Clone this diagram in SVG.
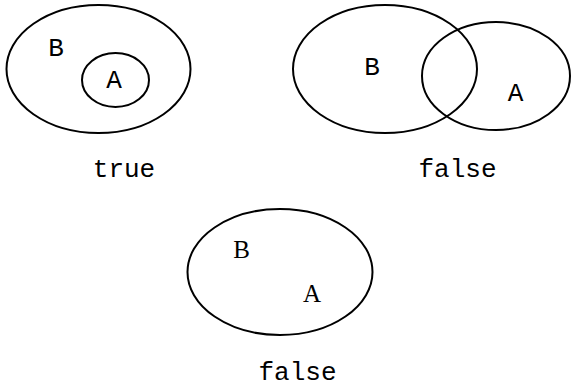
<svg xmlns="http://www.w3.org/2000/svg" width="572" height="387" viewBox="0 0 572 387">
<style>
.e{fill:none;stroke:#000;stroke-width:2}
.m{font-family:"Liberation Mono","Courier New",monospace;font-size:26px;fill:#000}
.w{font-family:"Liberation Mono","Courier New",monospace;font-size:26px;fill:#000}
.s{font-family:"Liberation Serif","Times New Roman",serif;font-size:25px;fill:#000}
</style>
<rect width="572" height="387" fill="#fff"/>
<g id="d1">
<ellipse class="e" cx="98.5" cy="69" rx="92" ry="64"/>
<ellipse class="e" cx="115.5" cy="80" rx="33.5" ry="27"/>
<text class="m" x="56" y="56" text-anchor="middle">B</text>
<text class="m" x="114" y="88" text-anchor="middle">A</text>
<text class="w" x="124" y="177" text-anchor="middle">true</text>
</g>
<g id="d2">
<ellipse class="e" cx="385" cy="69" rx="92" ry="64"/>
<ellipse class="e" cx="496" cy="76" rx="74" ry="54"/>
<text class="m" x="372" y="75" text-anchor="middle">B</text>
<text class="m" x="515.5" y="101" text-anchor="middle">A</text>
<text class="w" x="457.5" y="177" text-anchor="middle">false</text>
</g>
<g id="d3">
<ellipse class="e" cx="280" cy="272" rx="92.5" ry="63"/>
<text class="s" x="241.5" y="258" text-anchor="middle">B</text>
<text class="s" x="312" y="302" text-anchor="middle">A</text>
<text class="w" x="297.5" y="380" text-anchor="middle">false</text>
</g>
</svg>
